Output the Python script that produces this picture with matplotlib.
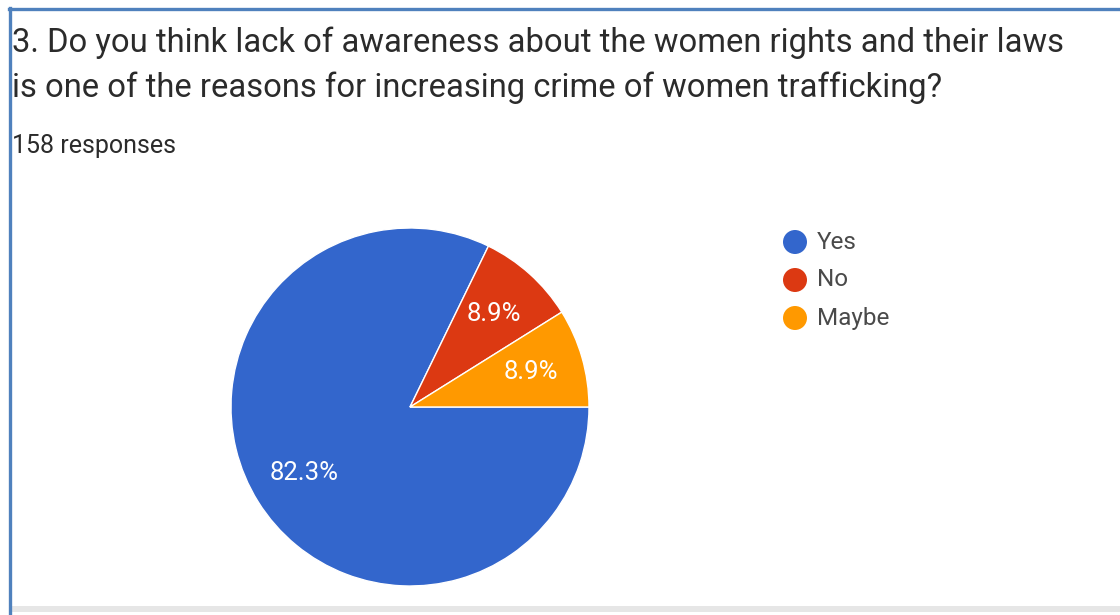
import matplotlib
matplotlib.use("Agg")
import numpy as np
import matplotlib.pyplot as plt
from matplotlib.patches import Rectangle, Circle
from matplotlib.lines import Line2D

# Survey data
categories = ["Yes", "No", "Maybe"]
shares = [82.3, 8.9, 8.9]
colors = ["#3366cc", "#dc3912", "#ff9900"]
title_lines = [
    "3. Do you think lack of awareness about the women rights and their laws",
    "is one of the reasons for increasing crime of women trafficking?",
]
subtitle = "158 responses"

W, H = 1120, 615
plt.rcParams["font.family"] = ["Roboto", "DejaVu Sans"]
fig = plt.figure(figsize=(W / 100, H / 100), dpi=100)
fig.patch.set_facecolor("white")


def fx(x):
    return x / W


def fy(y):
    return 1 - y / H


# frame: blue border on top/left, grey shadow at the bottom
fig.add_artist(Rectangle((fx(10), fy(612)), fx(W - 10), (612 - 606) / H,
                         transform=fig.transFigure, facecolor="#e6e6e6",
                         edgecolor="none"))
fig.add_artist(Line2D([fx(9), fx(W)], [fy(8.5), fy(8.5)], transform=fig.transFigure,
                      color="#4f81bd", lw=2.4))
fig.add_artist(Line2D([fx(9.5), fx(9.5)], [fy(8), fy(H)], transform=fig.transFigure,
                      color="#4f81bd", lw=2.4))

# title and response count
text_col = "#2b2b2b"
fig.text(fx(12), fy(52), title_lines[0], fontsize=23.6, color=text_col, va="baseline")
fig.text(fx(12), fy(97), title_lines[1], fontsize=23.6, color=text_col, va="baseline")
fig.text(fx(12), fy(153), subtitle, fontsize=18, color=text_col, va="baseline")

# pie
cx, cy, r = 410, 407, 179
ax = fig.add_axes([fx(cx - r), 1 - (cy + r) / H, 2 * r / W, 2 * r / H])
wedges, texts = ax.pie(
    shares, colors=colors, startangle=0, counterclock=False,
    labels=[f"{v:.1f}%" for v in shares], labeldistance=0.7,
    wedgeprops=dict(edgecolor="white", linewidth=1.0),
    textprops=dict(color="white", fontsize=18.5),
)
for t in texts:
    t.set_horizontalalignment("center")
    t.set_verticalalignment("center")
ax.set_xlim(-1, 1)
ax.set_ylim(-1, 1)
ax.set_aspect("equal")
ax.axis("off")

# legend
for i, (cat, col) in enumerate(zip(categories, colors)):
    y = 242 + 38 * i
    fig.add_artist(Circle((795, H - y), 12, transform=None, facecolor=col,
                          edgecolor="none"))
    fig.text(fx(817), fy(y), cat, fontsize=17.5, color="#4a4a4a", va="center")

fig.savefig("out.png", dpi=100, facecolor="white")
